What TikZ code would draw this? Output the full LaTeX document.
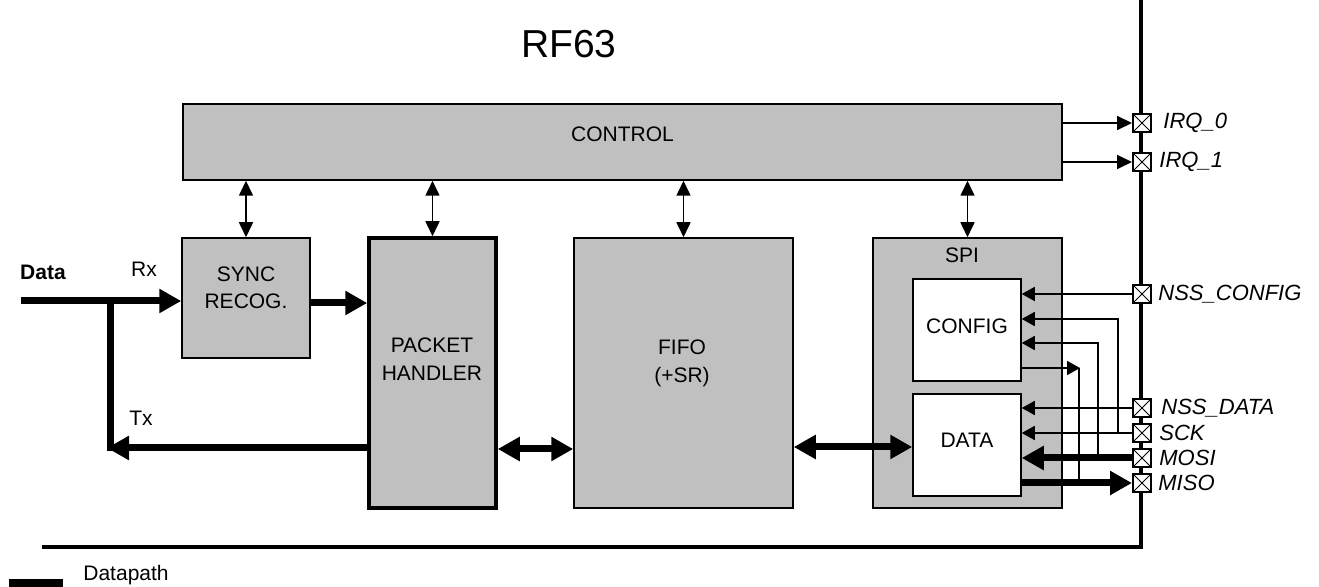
\documentclass[tikz,border=0pt]{standalone}
\usepackage{fontspec}
\setmainfont{Liberation Sans}
\usetikzlibrary{arrows.meta,fit,calc}
\definecolor{blkgray}{HTML}{C0C0C0}
\begin{document}
\begin{tikzpicture}[x=0.5pt,y=-0.5pt,
  blk/.style={draw, line width=0.75pt, fill=blkgray, inner sep=0pt, align=center,
    font=\fontsize{10.5}{13.5}\selectfont},
  wblk/.style={blk, fill=white},
  thickblk/.style={blk, line width=1.75pt},
  txt/.style={inner sep=0pt, font=\fontsize{10.5}{13}\selectfont},
  pinlbl/.style={inner sep=0pt, anchor=west, font=\fontsize{11}{13}\selectfont\itshape},
  pinbox/.style={draw, line width=1pt, fill=white, minimum size=9pt, inner sep=0pt,
    path picture={\draw[line width=0.5pt] (path picture bounding box.south west) -- (path picture bounding box.north east)
      (path picture bounding box.north west) -- (path picture bounding box.south east);}},
  ctlarr/.style={line width=0.8pt, {Triangle[length=7.5pt,width=7pt]}-{Triangle[length=7.5pt,width=7pt]}},
  sarr/.style={line width=0.8pt, -{Triangle[length=6.5pt,width=7pt]}},
  sline/.style={line width=0.8pt},
  irqarr/.style={line width=1pt, -{Triangle[length=7.5pt,width=7pt]}},
  bigarr/.style={line width=3.5pt, -{Triangle[length=11pt,width=11.5pt]}},
  bigdbl/.style={line width=3.5pt, {Triangle[length=11pt,width=11.5pt]}-{Triangle[length=11pt,width=11.5pt]}},
  bigline/.style={line width=3.5pt},
  busline/.style={line width=2pt}
]
\useasboundingbox (0,0) rectangle (1319,587);

% title
\node[inner sep=0pt, font=\fontsize{19.5}{22}\selectfont] (title) at (569,44) {RF63};

% bus lines
\coordinate (bustop) at (1141,0);
\coordinate (buscorner) at (1141,547);
\coordinate (busleft) at (42,547);
\draw[busline] (bustop) -- (buscorner) -- (busleft);

% blocks
\node[blk, fit={(183,104) (1062,180)}] (ctrl) {CONTROL};
\node[blk, fit={(182,238) (310,358)}] (sync) {};
\node[txt, align=center, font=\fontsize{10.5}{13.5}\selectfont] (synct) at (246,288) {SYNC\\RECOG.};
\node[thickblk, fit={(369,238) (496,508)}] (ph) {};
\node[txt, align=center, font=\fontsize{10.5}{14}\selectfont] (pht) at (432,359) {PACKET\\HANDLER};
\node[blk, fit={(574,238) (793,508)}] (fifo) {};
\node[txt, align=center, font=\fontsize{10.5}{14}\selectfont] (fifot) at (682,363) {FIFO\\(+SR)};
\node[blk, fit={(873,238) (1062,508)}] (spi) {};
\node[txt] (spit) at (962,255) {SPI};
\node[wblk, fit={(913,279) (1021,381)}] (config) {};
\node[txt] (configt) at (967,326) {CONFIG};
\node[wblk, fit={(913,394) (1021,496)}] (data) {};
\node[txt] (datat) at (967,440) {DATA};

% control links
\draw[ctlarr] (ctrl.south -| sync.north) -- (sync.north);
\draw[ctlarr] (ctrl.south -| ph.north) -- (ph.north);
\draw[ctlarr] (ctrl.south -| fifo.north) -- (fifo.north);
\draw[ctlarr] (ctrl.south -| spi.north) -- (spi.north);

% data path left
\coordinate (din) at (21,301);
\coordinate (br) at (110,301);
\coordinate (tx) at (110,448);
\node[txt, font=\fontsize{10.5}{13}\selectfont\bfseries] (datal) at (43,272) {Data};
\node[txt] (rxl) at (144,269) {Rx};
\node[txt] (txl) at (141,418) {Tx};
\draw[bigarr] (din) -- (din -| sync.west);
\draw[bigline] (br) -- ([yshift=-1.75pt]tx);
\draw[bigarr] (ph.west |- tx) -- ([xshift=-1.5pt]tx);
\draw[bigarr] (sync.east |- 0,303) -- (ph.west |- 0,303);

% datapath double arrows
\coordinate (pf) at (535,449);
\coordinate (fd) at (850,447);
\draw[bigdbl] (pf -| ph.east) -- (pf -| fifo.west);
\draw[bigdbl] (fd -| fifo.east) -- (fd -| data.west);

% pins
\node[pinbox] (irq0) at (1142,123) {};
\node[pinbox] (irq1) at (1142,162) {};
\node[pinbox] (nssc) at (1142,294) {};
\node[pinbox] (nssd) at (1142,408) {};
\node[pinbox] (sck) at (1142,433) {};
\node[pinbox] (mosi) at (1142,458) {};
\node[pinbox] (miso) at (1142,483) {};

\node[pinlbl] (irq0l) at ([xshift=5.5pt]irq0.east) {IRQ\_0};
\node[pinlbl] (irq1l) at ([xshift=3.5pt]irq1.east) {IRQ\_1};
\node[pinlbl] (nsscl) at ([xshift=3pt]nssc.east) {NSS\_CONFIG};
\node[pinlbl] (nssdl) at ([xshift=4.5pt]nssd.east) {NSS\_DATA};
\node[pinlbl] (sckl) at ([xshift=3.5pt]sck.east) {SCK};
\node[pinlbl] (mosil) at ([xshift=3.5pt]mosi.east) {MOSI};
\node[pinlbl] (misol) at ([xshift=3pt]miso.east) {MISO};

% IRQ
\draw[irqarr] (ctrl.east |- irq0) -- (irq0.west);
\draw[irqarr] (ctrl.east |- irq1) -- (irq1.west);

% SPI signals
\coordinate (c1) at (1118,319);
\coordinate (c2) at (1098,343);
\coordinate (c3) at (1079,368);
\draw[sarr] (nssc.west) -- (nssc.west -| config.east);
\draw[sarr] (nssd.west) -- (nssd.west -| data.east);
\draw[sarr] (sck.west) -- (sck.west -| data.east);
\draw[sarr] (c1 |- sck.west) -- (c1) -- (c1 -| config.east);
\draw[sarr] (c2 |- mosi.west) -- (c2) -- (c2 -| config.east);
\draw[sline] (c3) -- (c3 |- miso.west);
\draw[sarr] (c3 -| config.east) -- ([xshift=0.5pt]c3);
\draw[bigarr] (mosi.west) -- (mosi.west -| data.east);
\draw[bigarr] (data.east |- miso.west) -- (miso.west);

% legend
\fill (9,579) rectangle (63,587);
\node[txt, anchor=west] (legend) at (83,575) {Datapath};
\end{tikzpicture}
\end{document}
